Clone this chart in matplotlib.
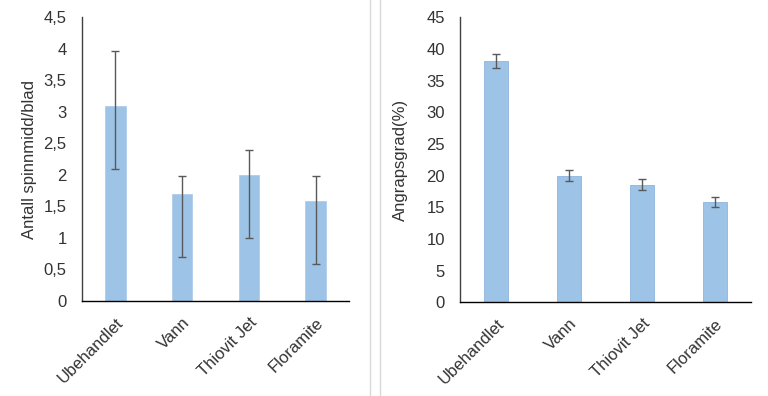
import matplotlib
matplotlib.use("Agg")
import matplotlib.pyplot as plt
from matplotlib.lines import Line2D

plt.rcParams['font.family'] = ['Liberation Sans', 'DejaVu Sans']

categories = ["Ubehandlet", "Vann", "Thiovit Jet", "Floramite"]

mites = [3.1, 1.7, 2.0, 1.58]
mites_err_low = [1.0, 1.0, 1.0, 1.0]
mites_err_high = [0.87, 0.29, 0.4, 0.4]
mites_ticks = [0, 0.5, 1, 1.5, 2, 2.5, 3, 3.5, 4, 4.5]
mites_ticklabels = ["0", "0,5", "1", "1,5", "2", "2,5", "3", "3,5", "4", "4,5"]

attack = [38.1, 20.0, 18.6, 15.9]
attack_err = [1.1, 0.9, 0.85, 0.8]
attack_ticks = [0, 5, 10, 15, 20, 25, 30, 35, 40, 45]
attack_ticklabels = [str(t) for t in attack_ticks]

bar_color = "#9DC3E6"
err_color = "#595959"
text_color = "#333333"

fig = plt.figure(figsize=(7.68, 3.96), dpi=100)

ax1 = fig.add_axes([0.1068, 0.2399, 0.3476, 0.7164])
ax2 = fig.add_axes([0.599, 0.2366, 0.379, 0.7197])

def style(ax, ticks, ticklabels, ymax, ylabel):
    ax.set_xlim(-0.5, 3.5)
    ax.set_ylim(0, ymax)
    ax.set_yticks(ticks)
    ax.set_yticklabels(ticklabels)
    ax.set_xticks(range(len(categories)))
    ax.set_xticklabels(categories, rotation=45, ha='right', rotation_mode='anchor')
    ax.tick_params(axis='both', length=0, colors=text_color)
    ax.tick_params(axis='y', pad=11, labelsize=12)
    ax.tick_params(axis='x', pad=10, labelsize=12)
    for s in ['top', 'right']:
        ax.spines[s].set_visible(False)
    ax.spines['left'].set_color('#404040')
    ax.spines['bottom'].set_color('#000000')
    ax.spines['left'].set_linewidth(1.0)
    ax.spines['bottom'].set_linewidth(1.0)
    ax.set_ylabel(ylabel, fontsize=12, color=text_color)

x = list(range(len(categories)))
ax1.bar(x, mites, width=0.31, color=bar_color, edgecolor="#A9C8E8", linewidth=0.5,
        yerr=[mites_err_low, mites_err_high], ecolor=err_color, capsize=3,
        error_kw=dict(elinewidth=1.0, capthick=1.0), zorder=2)
style(ax1, mites_ticks, mites_ticklabels, 4.5, "Antall spinnmidd/blad")
ax1.yaxis.set_label_coords(-0.169, 0.5)

ax2.bar(x, attack, width=0.33, color=bar_color, edgecolor="#8FB4DE", linewidth=0.6,
        yerr=attack_err, ecolor=err_color, capsize=3,
        error_kw=dict(elinewidth=1.0, capthick=1.0), zorder=2)
style(ax2, attack_ticks, attack_ticklabels, 45, "Angrapsgrad(%)")
ax2.yaxis.set_label_coords(-0.179, 0.5)

for xf in [369.7 / 768, 379.7 / 768]:
    fig.add_artist(Line2D([xf, xf], [0, 1], transform=fig.transFigure,
                          color="#D9D9D9", linewidth=1.0))

fig.savefig("out.png", dpi=100)
